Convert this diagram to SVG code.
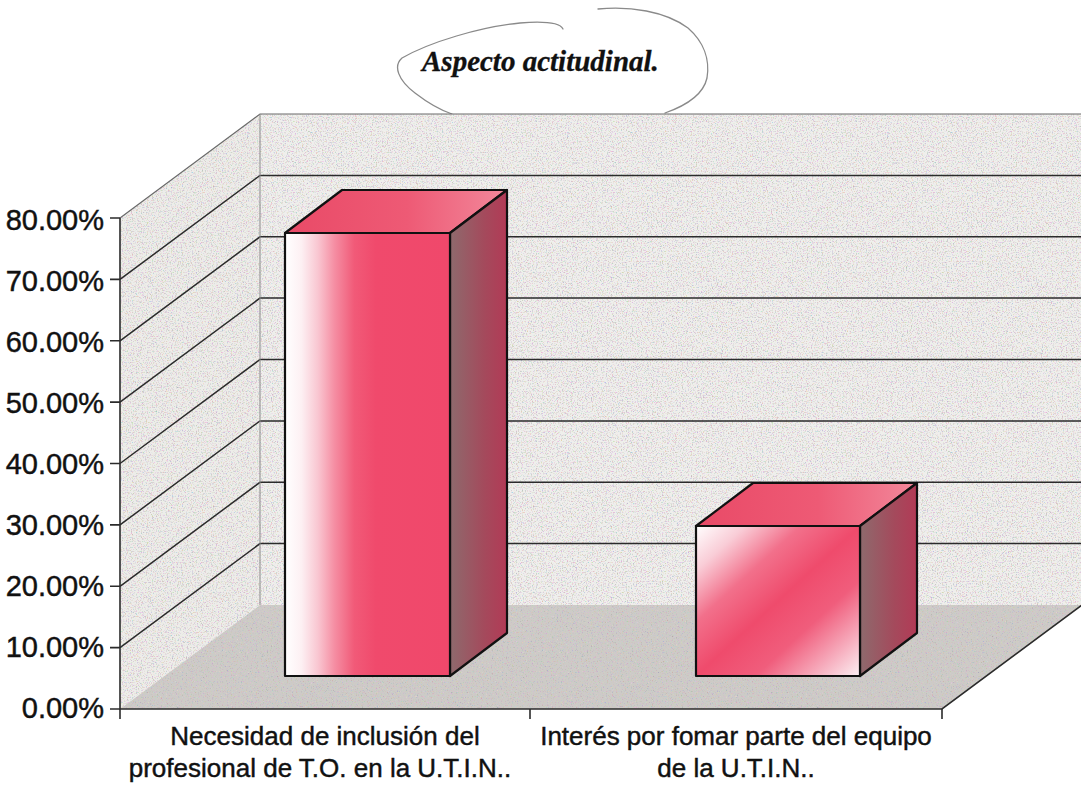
<svg xmlns="http://www.w3.org/2000/svg" width="1081" height="786" viewBox="0 0 1081 786">
<style>
.grid{stroke:#2b2b2b;stroke-width:1.5;fill:none}
.gridtop{stroke:#6a6a6a;stroke-width:1.2;fill:none}
.axis{stroke:#2b2b2b;stroke-width:1.6;fill:none}
.edge{stroke:#111;stroke-width:2.2;stroke-linejoin:round}
.ylab{font-family:"Liberation Sans",Arial,sans-serif;font-size:29px;fill:#111;stroke:#111;stroke-width:0.45;text-anchor:end}
.xlab{font-family:"Liberation Sans",Arial,sans-serif;font-size:26px;fill:#111;stroke:#111;stroke-width:0.45;text-anchor:middle}
.title{font-family:"Liberation Serif","Times New Roman",serif;font-size:29px;font-weight:bold;font-style:italic;fill:#111;stroke:#111;stroke-width:0.3}
.loop{stroke:#8a8a8a;stroke-width:1.3;fill:none;stroke-linecap:round}
</style>
<defs>
<filter id="speck" x="0" y="0" width="1" height="1">
<feTurbulence type="fractalNoise" baseFrequency="0.8" numOctaves="2" seed="7" result="t"/>
<feColorMatrix in="t" type="matrix" values="1.3 0 0 0 -0.05  0 1.0 0 0 0  0 0 1.1 0 0  0 0 0 -7 3.6" result="c"/>
<feComposite in="c" in2="SourceAlpha" operator="in"/>
</filter>
<linearGradient id="f1" x1="0" y1="0" x2="1" y2="0">
<stop offset="0" stop-color="#ffffff"/>
<stop offset="0.1" stop-color="#fdf0f3"/>
<stop offset="0.2" stop-color="#f9c6d1"/>
<stop offset="0.3" stop-color="#f58ea3"/>
<stop offset="0.42" stop-color="#f15a78"/>
<stop offset="0.55" stop-color="#f04a6c"/>
<stop offset="1" stop-color="#f0486b"/>
</linearGradient>
<linearGradient id="f2" x1="0" y1="0" x2="1" y2="1">
<stop offset="0" stop-color="#ffffff"/>
<stop offset="0.15" stop-color="#f9cdd7"/>
<stop offset="0.32" stop-color="#f2708b"/>
<stop offset="0.5" stop-color="#ef4b6c"/>
<stop offset="0.68" stop-color="#f05d7c"/>
<stop offset="0.85" stop-color="#f6aabb"/>
<stop offset="1" stop-color="#fcf0f3"/>
</linearGradient>
<linearGradient id="top" x1="0" y1="0" x2="1" y2="0">
<stop offset="0" stop-color="#e94a67"/>
<stop offset="0.55" stop-color="#ee5a75"/>
<stop offset="1" stop-color="#f2889b"/>
</linearGradient>
<linearGradient id="side" x1="0" y1="0" x2="1" y2="0">
<stop offset="0" stop-color="#8e6a6d"/>
<stop offset="0.6" stop-color="#a44a5c"/>
<stop offset="1" stop-color="#b23a56"/>
</linearGradient>
</defs>
<rect width="1081" height="786" fill="#ffffff"/>

<g id="title">
<path class="loop" d="M563,29 C560,23 545,21 520,23 C480,27 430,42 402,58 C393,66 398,80 415,93 C428,103 440,110 452,114"/>
<path class="loop" d="M598,9 C630,6 665,11 688,28 C704,42 710,60 707,78 C703,96 685,106 665,113"/>
<text class="title" x="422" y="71">Aspecto actitudinal.</text>
</g>

<g id="walls">
<polygon points="260,114 1081,114 1081,605 260,605" fill="#efefec"/>
<polygon points="260,114 1081,114 1081,605 260,605" fill="#efefec" filter="url(#speck)" opacity="0.5"/>
<polygon points="120,218 260,114 260,605 120,709" fill="#edede9"/>
<polygon points="120,218 260,114 260,605 120,709" fill="#edede9" filter="url(#speck)" opacity="0.5"/>
<polygon points="120,709 260,605 1082,605 942,709" fill="#cdcbc7"/>
<polygon points="120,709 260,605 1082,605 942,709" fill="#cdcbc7" filter="url(#speck)" opacity="0.4"/>
</g>

<g id="gridlines">
<path class="gridtop" d="M120,218 L260,114 L1081,114"/>
<path class="grid" d="M120,279.4 L260,175.4 L1081,175.4"/>
<path class="grid" d="M120,340.8 L260,236.8 L1081,236.8"/>
<path class="grid" d="M120,402.1 L260,298.1 L1081,298.1"/>
<path class="grid" d="M120,463.5 L260,359.5 L1081,359.5"/>
<path class="grid" d="M120,524.9 L260,420.9 L1081,420.9"/>
<path class="grid" d="M120,586.3 L260,482.3 L1081,482.3"/>
<path class="grid" d="M120,647.6 L260,543.6 L1081,543.6"/>
<path d="M260,114 L260,605" stroke="#8a8a8a" stroke-width="1" fill="none"/>
</g>

<g id="bar1">
<polygon class="edge" points="285,233 450,233 507,190 342,190" fill="url(#top)"/>
<polygon class="edge" points="450,233 507,190 507,633 450,676" fill="url(#side)"/>
<rect class="edge" x="285" y="233" width="165" height="443" fill="url(#f1)"/>
</g>

<g id="bar2">
<polygon class="edge" points="696,526 860,526 917,483 753,483" fill="url(#top)"/>
<polygon class="edge" points="860,526 917,483 917,633 860,676" fill="url(#side)"/>
<rect class="edge" x="696" y="526" width="164" height="150" fill="url(#f2)"/>
</g>

<g id="axes">
<path class="axis" d="M120,218 L120,709 L942,709 L1082,605"/>
<path class="axis" d="M110,218 H120 M110,279.4 H120 M110,340.8 H120 M110,402.1 H120 M110,463.5 H120 M110,524.9 H120 M110,586.3 H120 M110,647.6 H120 M110,709 H120"/>
<path class="axis" d="M120,709 V719 M530,709 V719 M942,709 V719"/>
</g>

<g id="ylabels">
<text class="ylab" x="104" y="230">80.00%</text>
<text class="ylab" x="104" y="291">70.00%</text>
<text class="ylab" x="104" y="352">60.00%</text>
<text class="ylab" x="104" y="413">50.00%</text>
<text class="ylab" x="104" y="474">40.00%</text>
<text class="ylab" x="104" y="535">30.00%</text>
<text class="ylab" x="104" y="596">20.00%</text>
<text class="ylab" x="104" y="657">10.00%</text>
<text class="ylab" x="104" y="718">0.00%</text>
</g>

<g id="xlabels">
<text class="xlab" x="325" y="745">Necesidad de inclusión del</text>
<text class="xlab" x="320" y="777">profesional de T.O. en la U.T.I.N..</text>
<text class="xlab" x="736" y="745">Interés por fomar parte del equipo</text>
<text class="xlab" x="736" y="777">de la U.T.I.N..</text>
</g>
</svg>
